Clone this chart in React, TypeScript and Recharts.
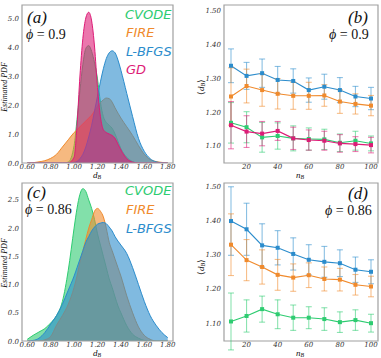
import React from 'react'
import { ComposedChart, Area, Line, XAxis, YAxis, ErrorBar, ReferenceArea } from 'recharts'

// d_B grid for the estimated PDFs (finer around the peaks)
const dB = [0.6, 0.65, 0.7, 0.75, 0.8, 0.85, 0.9, 0.95, 1.0, 1.025, 1.05, 1.075, 1.1, 1.125, 1.15, 1.175, 1.2, 1.225, 1.25, 1.275, 1.3, 1.325, 1.35, 1.375, 1.4, 1.45, 1.5, 1.55, 1.6, 1.65, 1.7, 1.75, 1.8]

// panel (a), phi = 0.9
const aCvode = [0, 0, 0, 0, 0, 0, 0, 0.03, 0.6, 1.5, 2.5, 3.4, 3.95, 4.05, 3.85, 3.45, 2.9, 2.1, 1.6, 1.4, 1.3, 1.2, 1.0, 0.75, 0.5, 0.2, 0.05, 0, 0, 0, 0, 0, 0]
const aFire = [0, 0.01, 0.04, 0.08, 0.16, 0.3, 0.55, 0.8, 1.05, 1.15, 1.25, 1.35, 1.45, 1.55, 1.65, 1.8, 1.95, 2.08, 2.18, 2.24, 2.22, 2.1, 1.9, 1.72, 1.55, 1.25, 0.95, 0.6, 0.3, 0.12, 0.05, 0.02, 0]
const aLbfgs = [0, 0, 0, 0, 0, 0, 0, 0, 0.02, 0.05, 0.15, 0.3, 0.55, 0.9, 1.3, 1.8, 2.3, 2.8, 3.25, 3.6, 3.8, 3.87, 3.8, 3.55, 3.2, 2.4, 1.6, 0.85, 0.4, 0.15, 0.04, 0.01, 0]
const aGd = [0, 0, 0, 0, 0, 0, 0, 0, 0.2, 1.3, 3.0, 4.3, 5.0, 5.2, 4.9, 4.0, 2.6, 1.6, 1.15, 1.05, 1.0, 0.95, 0.85, 0.65, 0.45, 0.15, 0.03, 0, 0, 0, 0, 0, 0]

// panel (c), phi = 0.86
const cCvode = [0.03, 0.1, 0.16, 0.22, 0.32, 0.45, 0.7, 1.25, 2.0, 2.35, 2.6, 2.7, 2.65, 2.5, 2.35, 2.15, 1.9, 1.7, 1.5, 1.3, 1.1, 0.95, 0.78, 0.62, 0.5, 0.27, 0.12, 0.05, 0.01, 0, 0, 0, 0]
const cFire = [0, 0, 0, 0.02, 0.08, 0.28, 0.45, 0.65, 0.95, 1.15, 1.4, 1.6, 1.8, 2.0, 2.15, 2.3, 2.35, 2.3, 2.2, 2.0, 1.75, 1.6, 1.45, 1.3, 1.15, 0.8, 0.5, 0.25, 0.1, 0.03, 0, 0, 0]
const cLbfgs = [0, 0.01, 0.05, 0.15, 0.3, 0.45, 0.65, 0.9, 1.15, 1.3, 1.45, 1.6, 1.75, 1.85, 1.95, 2.02, 2.07, 2.09, 2.1, 2.08, 2.02, 1.95, 1.85, 1.77, 1.7, 1.55, 1.3, 1.0, 0.7, 0.45, 0.28, 0.15, 0.06]

// mean d_B vs n_B
const nB = [10, 20, 30, 40, 50, 60, 70, 80, 90, 100]

const bLbfgs = [1.337, 1.307, 1.315, 1.295, 1.292, 1.265, 1.275, 1.265, 1.246, 1.24]
const bLbfgsErr = [0.05, 0.04, 0.042, 0.04, 0.036, 0.036, 0.037, 0.037, 0.03, 0.033]
const bFire = [1.246, 1.277, 1.265, 1.254, 1.248, 1.248, 1.249, 1.231, 1.224, 1.219]
const bFireErr = [0.085, 0.05, 0.048, 0.045, 0.04, 0.04, 0.032, 0.035, 0.03, 0.03]
const bCvode = [1.168, 1.155, 1.125, 1.129, 1.122, 1.12, 1.119, 1.109, 1.115, 1.107]
const bCvodeErr = [0.06, 0.046, 0.044, 0.039, 0.037, 0.033, 0.03, 0.026, 0.028, 0.022]
const bGd = [1.161, 1.142, 1.136, 1.144, 1.122, 1.117, 1.115, 1.107, 1.105, 1.102]
const bGdErr = [0.07, 0.047, 0.036, 0.028, 0.033, 0.03, 0.028, 0.026, 0.022, 0.023]

const dLbfgs = [1.398, 1.374, 1.327, 1.32, 1.302, 1.285, 1.279, 1.275, 1.256, 1.25]
const dLbfgsErr = [0.1, 0.076, 0.063, 0.05, 0.047, 0.044, 0.045, 0.039, 0.037, 0.035]
const dFire = [1.329, 1.284, 1.264, 1.241, 1.233, 1.24, 1.229, 1.227, 1.212, 1.207]
const dFireErr = [0.09, 0.06, 0.05, 0.045, 0.04, 0.036, 0.035, 0.033, 0.03, 0.03]
const dCvode = [1.105, 1.121, 1.141, 1.126, 1.116, 1.116, 1.112, 1.103, 1.109, 1.1]
const dCvodeErr = [0.083, 0.047, 0.038, 0.042, 0.037, 0.032, 0.033, 0.03, 0.03, 0.026]

const pdfTicksX = [0.6, 0.8, 1.0, 1.2, 1.4, 1.6, 1.8]
const pdfTicksA = [0, 1, 2, 3, 4, 5]
const pdfTicksC = [0, 0.5, 1, 1.5, 2, 2.5]
const meanTicksY = [1.1, 1.2, 1.3, 1.4, 1.5]
const nTicks = [20, 40, 60, 80, 100]

const GREEN = '#2ecc71'
const ORANGE = '#f08a2c'
const BLUE = '#2b8ccc'
const PINK = '#dd1c77'
const FRAME = '#a0a0a0'

const pdfRows = (cols: Record<string, number[]>) =>
  dB.map((x, i) => {
    const row: any = { x }
    Object.keys(cols).forEach((k) => (row[k] = cols[k][i]))
    return row
  })

const meanRows = (cols: Record<string, number[]>) =>
  nB.map((n, i) => {
    const row: any = { n }
    Object.keys(cols).forEach((k) => (row[k] = cols[k][i]))
    return row
  })

const dataA = pdfRows({ cvode: aCvode, fire: aFire, lbfgs: aLbfgs, gd: aGd })
const dataC = pdfRows({ cvode: cCvode, fire: cFire, lbfgs: cLbfgs })
const dataB = meanRows({ lbfgs: bLbfgs, lbfgsErr: bLbfgsErr, fire: bFire, fireErr: bFireErr, cvode: bCvode, cvodeErr: bCvodeErr, gd: bGd, gdErr: bGdErr })
const dataD = meanRows({ lbfgs: dLbfgs, lbfgsErr: dLbfgsErr, fire: dFire, fireErr: dFireErr, cvode: dCvode, cvodeErr: dCvodeErr })

const COLORS: Record<string, string> = { cvode: GREEN, fire: ORANGE, lbfgs: BLUE, gd: PINK }

// serif italic tick labels like the matplotlib/LaTeX original
const XTick = (fmt: (v: number) => string) => (p: any) => (
  <text x={p.x} y={p.y} dy={4.5} textAnchor="middle" fontSize={7} fontStyle="italic" fontFamily="DejaVu Serif" fill="#333">
    {fmt(p.payload.value)}
  </text>
)
const YTick = (fmt: (v: number) => string) => (p: any) => (
  <text x={p.x} y={p.y} dy={2.5} textAnchor="end" fontSize={7} fontStyle="italic" fontFamily="DejaVu Serif" fill="#333">
    {fmt(p.payload.value)}
  </text>
)
const f2 = (v: number) => v.toFixed(2)
const f1 = (v: number) => v.toFixed(1)
const f0 = (v: number) => String(v)

function PdfPanel({ data, keys, top, xh, yMax, yTicks }: any) {
  const xDom = [0.555, 1.845]
  return (
    <div style={{ position: 'absolute', left: 0, top }}>
      <ComposedChart width={190} height={158 + 5 + xh} data={data} margin={{ top: 5, right: 17, left: 0, bottom: 0 }}>
        <XAxis dataKey="x" type="number" domain={xDom} allowDataOverflow ticks={pdfTicksX} tick={XTick(f2)}
          height={xh} tickLine={false} axisLine={false} tickSize={0} tickMargin={1} interval={0} />
        <YAxis type="number" domain={[0, yMax]} allowDataOverflow ticks={yTicks} tick={YTick(f1)}
          width={22} tickLine={false} axisLine={false} tickSize={0} tickMargin={3} interval={0} />
        {keys.map((k: string) => (
          <Area key={k} dataKey={k} type="monotone" stroke={COLORS[k]} strokeWidth={1} fill={COLORS[k]} fillOpacity={0.6}
            isAnimationActive={false} dot={false} activeDot={false} />
        ))}
        <ReferenceArea x1={xDom[0]} x2={xDom[1]} y1={0} y2={yMax} fill="none" stroke={FRAME} strokeWidth={1.2} ifOverflow="visible" />
      </ComposedChart>
    </div>
  )
}

const squareDot = (color: string) => (p: any) => (
  <rect key={`dot-${p.index}`} x={p.cx - 2} y={p.cy - 2} width={4} height={4} fill={color} />
)

function MeanPanel({ data, keys, top, xh, yDom }: any) {
  const xDom = [5.5, 104.5]
  return (
    <div style={{ position: 'absolute', left: 190, top }}>
      <ComposedChart width={191} height={158 + 5 + xh} data={data} margin={{ top: 5, right: 3, left: 0, bottom: 0 }}>
        <XAxis dataKey="n" type="number" domain={xDom} allowDataOverflow ticks={nTicks} tick={XTick(f0)} height={xh}
          tickLine={false} axisLine={false} tickSize={0} tickMargin={1} interval={0} />
        <YAxis type="number" domain={yDom} allowDataOverflow ticks={meanTicksY} tick={YTick(f2)}
          width={34} tickLine={false} axisLine={false} tickSize={0} tickMargin={3} interval={0} />
        {keys.map((k: string) => (
          <Line key={k} dataKey={k} stroke={COLORS[k]} strokeWidth={1.1} isAnimationActive={false}
            dot={squareDot(COLORS[k])} activeDot={false}>
            <ErrorBar dataKey={k + 'Err'} direction="y" width={3} stroke={COLORS[k]} strokeOpacity={0.55} strokeWidth={1.1} />
          </Line>
        ))}
        <ReferenceArea x1={xDom[0]} x2={xDom[1]} y1={yDom[0]} y2={yDom[1]} fill="none" stroke={FRAME} strokeWidth={1.2} ifOverflow="visible" />
      </ComposedChart>
    </div>
  )
}

function T({ x, y, size, color = '#111', family = 'Liberation Serif', italic = false, children, rotate = false, lh = 1 }: any) {
  return (
    <div
      style={{
        position: 'absolute', left: x, top: y, fontSize: size, color, fontFamily: family,
        fontStyle: italic ? 'italic' : 'normal', lineHeight: lh, whiteSpace: 'nowrap',
        transform: rotate ? 'translate(-50%, -50%) rotate(-90deg)' : undefined,
      }}
    >
      {children}
    </div>
  )
}

const Phi = ({ v }: any) => (
  <span><i>ϕ</i>&nbsp;=&nbsp;{v}</span>
)

const Sub = ({ base, sub }: any) => (
  <span><i>{base}</i><sub style={{ fontSize: '0.65em', fontStyle: 'italic', verticalAlign: '-0.2em', lineHeight: 0 }}>{sub}</sub></span>
)

const legendFont = 'DejaVu Sans'

export default function App() {
  return (
    <div style={{ position: 'fixed', left: 0, top: 0, width: 381, height: 358, background: '#fff', overflow: 'hidden' }}>
      <PdfPanel data={dataA} keys={['cvode', 'fire', 'lbfgs', 'gd']} top={0} xh={15} yMax={5.45} yTicks={pdfTicksA} />
      <PdfPanel data={dataC} keys={['cvode', 'fire', 'lbfgs']} top={178} xh={17} yMax={2.8} yTicks={pdfTicksC} />
      <MeanPanel data={dataB} keys={['lbfgs', 'fire', 'cvode', 'gd']} top={0} xh={15} yDom={[1.049, 1.517]} />
      <MeanPanel data={dataD} keys={['lbfgs', 'fire', 'cvode']} top={178} xh={17} yDom={[1.048, 1.509]} />

      {/* panel (a) texts */}
      <T x={27} y={9} size={17} italic>(a)</T>
      <T x={26} y={28} size={14}><Phi v="0.9" /></T>
      <T x={125} y={8} size={13} italic family={legendFont} color={GREEN}>CVODE</T>
      <T x={126} y={26} size={13} italic family={legendFont} color={ORANGE}>FIRE</T>
      <T x={126} y={45} size={13} italic family={legendFont} color={BLUE}>L-BFGS</T>
      <T x={126} y={63} size={13} italic family={legendFont} color={PINK}>GD</T>
      <T x={5} y={87} size={8} italic rotate>Estimated PDF</T>
      <T x={93} y={172} size={9} lh={0.8}><Sub base="d" sub="B" /></T>

      {/* panel (c) texts */}
      <T x={27} y={184} size={17} italic>(c)</T>
      <T x={25} y={203} size={14}><Phi v="0.86" /></T>
      <T x={125} y={184} size={13} italic family={legendFont} color={GREEN}>CVODE</T>
      <T x={126} y={203} size={13} italic family={legendFont} color={ORANGE}>FIRE</T>
      <T x={126} y={222} size={13} italic family={legendFont} color={BLUE}>L-BFGS</T>
      <T x={5} y={263} size={8} italic rotate>Estimated PDF</T>
      <T x={93} y={349.5} size={9} lh={0.8}><Sub base="d" sub="B" /></T>

      {/* panel (b) texts */}
      <T x={348} y={9} size={17} italic>(b)</T>
      <T x={329} y={28} size={14}><Phi v="0.9" /></T>
      <T x={201} y={87} size={9} rotate>⟨<Sub base="d" sub="B" />⟩</T>
      <T x={296} y={172} size={9} lh={0.8}><Sub base="n" sub="B" /></T>

      {/* panel (d) texts */}
      <T x={348} y={185} size={17} italic>(d)</T>
      <T x={325} y={203.5} size={14}><Phi v="0.86" /></T>
      <T x={201} y={267} size={9} rotate>⟨<Sub base="d" sub="B" />⟩</T>
      <T x={296} y={349.5} size={9} lh={0.8}><Sub base="n" sub="B" /></T>
    </div>
  )
}
